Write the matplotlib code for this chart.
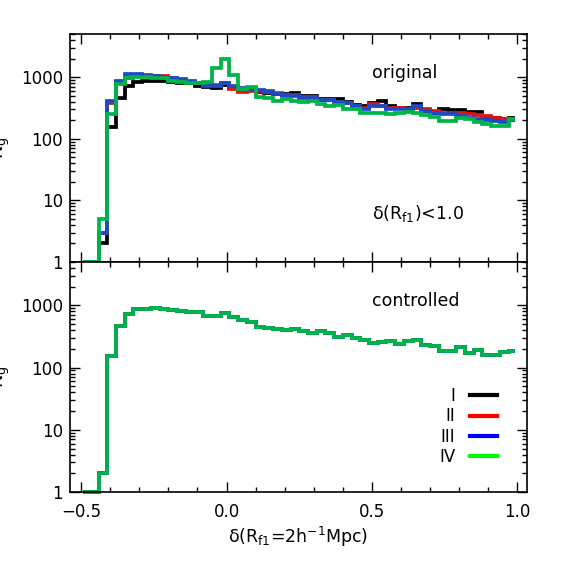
import numpy as np
import matplotlib
matplotlib.use("Agg")
import matplotlib.pyplot as plt
from matplotlib.ticker import FixedLocator, LogLocator, NullFormatter, MultipleLocator
from matplotlib.lines import Line2D

plt.rcParams['font.family'] = ['DejaVu Sans']
plt.rcParams['mathtext.default'] = 'regular'

# bin centres of delta(R_f1) histograms (bin width 0.03, from -0.5 to 1.0)
bin_centers = [-0.485, -0.455, -0.425, -0.395, -0.365, -0.335, -0.305, -0.275, -0.245, -0.215,
               -0.185, -0.155, -0.125, -0.095, -0.065, -0.035, -0.005, 0.025, 0.055, 0.085,
               0.115, 0.145, 0.175, 0.205, 0.235, 0.265, 0.295, 0.325, 0.355, 0.385,
               0.415, 0.445, 0.475, 0.505, 0.535, 0.565, 0.595, 0.625, 0.655, 0.685,
               0.715, 0.745, 0.775, 0.805, 0.835, 0.865, 0.895, 0.925, 0.955, 0.985]

# top panel ("original")
orig_I = [1, 1, 2, 157, 464, 717, 840, 865, 870, 850,
          840, 813, 800, 717, 700, 674, 740, 690, 610, 610,
          580, 560, 540, 525, 545, 493, 493, 434, 440, 434,
          395, 350, 340, 375, 410, 335, 320, 320, 360, 280,
          264, 300, 290, 290, 270, 270, 215, 215, 210, 215]
orig_II = [1, 1, 3, 375, 820, 980, 1070, 1070, 1060, 1030,
           950, 880, 840, 790, 764, 740, 790, 650, 580, 594,
           594, 580, 560, 520, 520, 480, 470, 430, 420, 400,
           380, 345, 320, 360, 340, 310, 320, 300, 320, 300,
           280, 264, 264, 260, 250, 240, 235, 215, 210, 200]
orig_III = [1, 1, 3, 408, 865, 1110, 1110, 1042, 1042, 1000,
            950, 920, 880, 813, 717, 717, 800, 717, 674, 650,
            610, 594, 540, 493, 500, 460, 460, 425, 425, 395,
            375, 340, 305, 335, 335, 300, 305, 300, 335, 280,
            264, 250, 250, 233, 220, 212, 200, 195, 190, 200]
orig_IV = [1, 1, 5, 248, 780, 950, 1000, 1000, 980, 950,
           880, 840, 813, 813, 840, 1430, 2000, 1080, 650, 700,
           475, 450, 410, 434, 410, 395, 410, 360, 340, 350,
           300, 300, 264, 260, 264, 250, 264, 275, 264, 240,
           228, 195, 195, 220, 210, 190, 175, 160, 160, 210]

# bottom panel ("controlled"): all four samples identical
ctrl = [1, 1, 2, 152, 460, 716, 885, 890, 918, 876,
        850, 813, 783, 775, 682, 682, 754, 650, 573, 546,
        458, 436, 417, 402, 417, 386, 363, 386, 355, 316,
        340, 301, 280, 250, 257, 272, 241, 266, 280, 232,
        226, 188, 188, 218, 171, 193, 160, 160, 177, 185]

labels = ['I', 'II', 'III', 'IV']
line_colors = ['#000000', '#e01414', '#1a4cc8', '#00b548']
legend_colors = ['#000000', '#ff0000', '#0000ff', '#00ff00']

ytick_vals = [1, 10, 100, 1000]
ytick_labels = ['1', '10', '100', '1000']
xtick_vals = [-0.5, 0.0, 0.5, 1.0]
xtick_labels = ['\u22120.5', '0.0', '0.5', '1.0']

W = H = 561.0
fig = plt.figure(figsize=(5.61, 5.61), dpi=100)
ax1 = fig.add_axes([70 / W, 1 - 262 / H, 457 / W, 228 / H])
ax2 = fig.add_axes([70 / W, 1 - 492 / H, 457 / W, 230 / H])

LW = 2.7
for ax in (ax1, ax2):
    ax.set_yscale('log')
    ax.set_xlim(-0.538, 1.033)
    ax.set_ylim(1, 5000)
    ax.yaxis.set_major_locator(FixedLocator(ytick_vals))
    ax.set_yticklabels(ytick_labels)
    ax.yaxis.set_minor_locator(LogLocator(base=10, subs=np.arange(2, 10)))
    ax.yaxis.set_minor_formatter(NullFormatter())
    ax.xaxis.set_major_locator(FixedLocator(xtick_vals))
    ax.xaxis.set_minor_locator(MultipleLocator(0.1))
    ax.tick_params(which='both', direction='in', top=True, right=True,
                   width=1.0, labelsize=12, colors='black')
    ax.tick_params(which='major', length=7.2)
    ax.tick_params(which='minor', length=3.6)
    ax.tick_params(axis='y', pad=5)
    ax.tick_params(axis='x', pad=8)
    for s in ax.spines.values():
        s.set_linewidth(1.2)
    ax.set_ylabel('$N_g$', fontsize=13)
    ax.yaxis.set_label_coords(-0.127, 0.5)

for vals, col in zip([orig_I, orig_II, orig_III, orig_IV], line_colors):
    ax1.step(bin_centers, vals, where='mid', color=col, lw=LW, clip_on=False,
             solid_joinstyle='miter')
for col in line_colors:
    ax2.step(bin_centers, ctrl, where='mid', color=col, lw=LW, clip_on=False,
             solid_joinstyle='miter')

ax1.set_xticklabels([])
ax2.set_xticklabels(xtick_labels)
ax2.set_xlabel('$\\delta(R_{f1}$=2h$^{-1}$Mpc)', fontsize=12.5, labelpad=3)

ax1.text((372 - 70) / 457, (262 - 73) / 228, 'original', transform=ax1.transAxes,
         fontsize=12.5, va='center', ha='left')
ax1.text((372 - 70) / 457, (262 - 214) / 228, '$\\delta(R_{f1})$<1.0', transform=ax1.transAxes,
         fontsize=12.5, va='center', ha='left')
ax2.text((372 - 70) / 457, (492 - 301) / 230, 'controlled', transform=ax2.transAxes,
         fontsize=12.5, va='center', ha='left')

handles = [Line2D([], [], color=c, lw=3) for c in legend_colors]
ax2.legend(handles, labels, loc='upper right', bbox_to_anchor=((497 - 70) / 457, (492 - 387) / 230),
           frameon=False, markerfirst=False, handlelength=1.6, handletextpad=0.9,
           labelspacing=0.14, borderpad=0, borderaxespad=0, fontsize=12)

fig.savefig('out.png', dpi=100)
